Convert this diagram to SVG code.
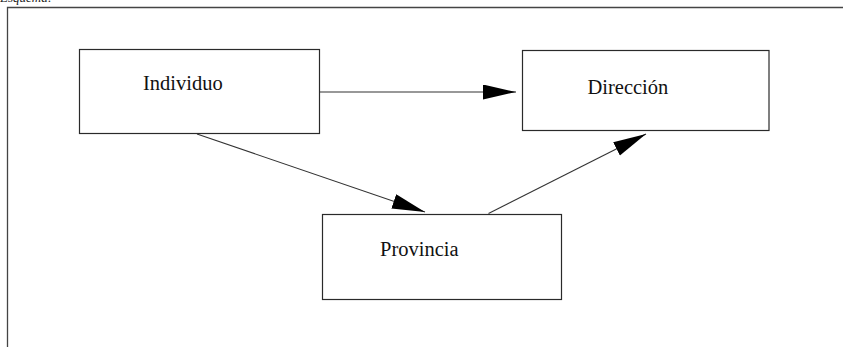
<svg xmlns="http://www.w3.org/2000/svg" width="843" height="347" viewBox="0 0 843 347">
  <style>
    .box { fill: #ffffff; stroke: #2a2a2a; stroke-width: 1.2; }
    .lbl { font-family: "Liberation Serif", "Times New Roman", serif; font-size: 20.5px; fill: #111111; }
    .edge { fill: none; stroke: #333333; stroke-width: 1.1; marker-end: url(#head); }
    .frame { fill: none; stroke: #444444; stroke-width: 1.3; }
  </style>
  <defs>
    <marker id="head" markerUnits="userSpaceOnUse" markerWidth="34" markerHeight="16" refX="33" refY="7.5" orient="auto">
      <path d="M0,0 L33,7.5 L0,15 Z" fill="#000000"/>
    </marker>
  </defs>
  <rect width="843" height="347" fill="#ffffff"/>

  <!-- caption, clipped by the top edge -->
  <text x="0" y="1.5" font-family="Liberation Serif, serif" font-style="italic" font-size="13" fill="#222">Esquema:</text>

  <!-- outer frame (left and top edges) -->
  <path class="frame" d="M7.5,347 L7.5,7.5 L843,7.5"/>

  <g id="connectors">
    <line class="edge" x1="320" y1="92" x2="516" y2="92"/>
    <line class="edge" x1="197" y1="134" x2="425" y2="212"/>
    <line class="edge" x1="488.5" y1="213.5" x2="646" y2="134"/>
  </g>

  <g id="individuo">
    <rect class="box" x="79.5" y="49.5" width="240" height="84"/>
    <text class="lbl" x="143" y="90">Individuo</text>
  </g>

  <g id="direccion">
    <rect class="box" x="522.5" y="50.5" width="246.5" height="80"/>
    <text class="lbl" x="587.5" y="94">Dirección</text>
  </g>

  <g id="provincia">
    <rect class="box" x="322.5" y="214.5" width="239" height="85"/>
    <text class="lbl" x="380" y="256">Provincia</text>
  </g>
</svg>
